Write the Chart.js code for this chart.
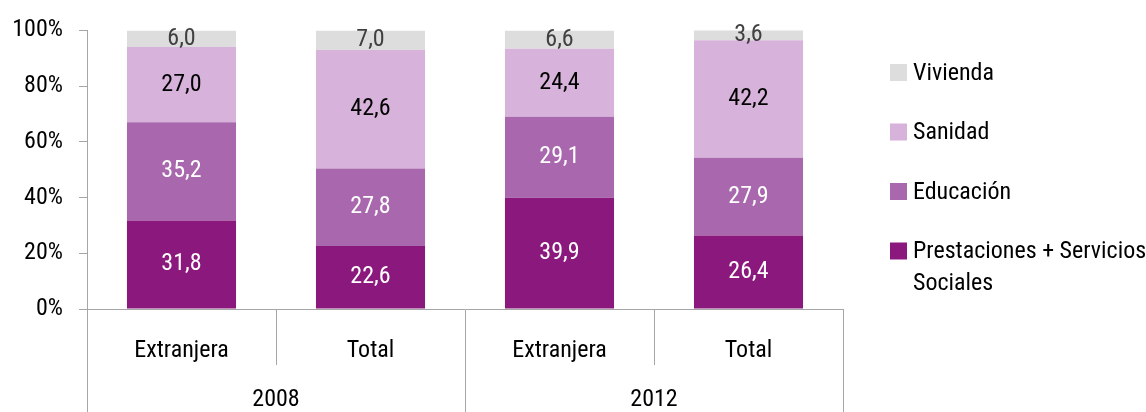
<!DOCTYPE html>
<html><head><meta charset="utf-8">
<script src="https://cdn.jsdelivr.net/npm/chart.js@4.4.0/dist/chart.umd.min.js"></script>
<style>html,body{margin:0;padding:0;background:#fff}#wrap{width:1146px;height:412px;position:relative}</style>
</head><body><div id="wrap"><canvas id="c" width="1146" height="412"></canvas></div>
<script>
const categories = ['Extranjera', 'Total', 'Extranjera', 'Total'];
const years = ['2008', '2012'];
const prestaciones = [31.8, 22.6, 39.9, 26.4];
const educacion = [35.2, 27.8, 29.1, 27.9];
const sanidad = [27.0, 42.6, 24.4, 42.2];
const vivienda = [6.0, 7.0, 6.6, 3.6];
const yTicks = [0, 20, 40, 60, 80, 100];
const seriesNames = ['Prestaciones + Servicios Sociales', 'Educación', 'Sanidad', 'Vivienda'];
const legendLines = [['Prestaciones + Servicios', 'Sociales'], ['Educación'], ['Sanidad'], ['Vivienda']];

const FONT = "'Roboto Condensed', 'DejaVu Sans Condensed', sans-serif";
const FS = 24;
const colors = ['#8B187C', '#A968AE', '#D7B2DA', '#DDDDDD'];
const labelColors = ['#FFFFFF', '#FFFFFF', '#000000', '#404040'];
const seriesData = [prestaciones, educacion, sanidad, vivienda];
const AXIS = '#A6A6A6';

const fmt = v => v.toFixed(1).replace('.', ',');

const valueLabels = {
  id: 'valueLabels',
  afterDatasetsDraw(chart) {
    const ctx = chart.ctx;
    ctx.save();
    ctx.font = FS + 'px ' + FONT;
    ctx.textAlign = 'center';
    ctx.textBaseline = 'middle';
    chart.data.datasets.forEach((ds, i) => {
      const meta = chart.getDatasetMeta(i);
      meta.data.forEach((el, j) => {
        const p = el.getProps(['x', 'y', 'base'], true);
        ctx.fillStyle = labelColors[i];
        ctx.fillText(fmt(ds.data[j]), p.x, (p.y + p.base) / 2);
      });
    });
    ctx.restore();
  }
};

const sideLegend = {
  id: 'sideLegend',
  afterDraw(chart) {
    const ctx = chart.ctx;
    ctx.save();
    ctx.font = FS + 'px ' + FONT;
    ctx.textAlign = 'left';
    ctx.textBaseline = 'middle';
    const order = [3, 2, 1, 0];
    const centers = [72.5, 132, 191.5, 251];
    order.forEach((di, k) => {
      const cy = centers[k];
      ctx.fillStyle = chart.data.datasets[di].backgroundColor;
      ctx.fillRect(890, cy - 8.5, 17, 17);
      ctx.fillStyle = '#000';
      legendLines[di].forEach((line, li) => {
        ctx.fillText(line, 913, cy + 1 + li * 32);
      });
    });
    ctx.restore();
  }
};

new Chart(document.getElementById('c'), {
  type: 'bar',
  data: {
    labels: categories,
    datasets: seriesData.map((d, i) => ({
      label: seriesNames[i],
      data: d,
      backgroundColor: colors[i],
      borderWidth: 0,
      categoryPercentage: 1,
      barPercentage: 0.577,
      xAxisID: 'x',
      yAxisID: 'y'
    }))
  },
  options: {
    responsive: false,
    animation: false,
    devicePixelRatio: 1,
    layout: { padding: { top: 28, right: 303, bottom: 0, left: 0 } },
    plugins: { legend: { display: false }, tooltip: { enabled: false } },
    scales: {
      x: {
        type: 'category',
        position: 'bottom',
        weight: 0,
        stacked: true,
        offset: true,
        afterFit: s => { s.height = 56; },
        grid: { offset: true, drawOnChartArea: false, tickLength: 56, color: AXIS, lineWidth: 1 },
        border: { display: true, color: AXIS, width: 1 },
        ticks: { font: { family: FONT, size: FS }, color: '#000', mirror: true, crossAlign: 'center', padding: -42, autoSkip: false, maxRotation: 0 }
      },
      x2: {
        type: 'category',
        position: 'bottom',
        weight: 1,
        labels: years,
        offset: true,
        afterFit: s => { s.height = 47; },
        grid: { offset: true, drawOnChartArea: false, tickLength: 47, color: AXIS, lineWidth: 1 },
        border: { display: false },
        ticks: { font: { family: FONT, size: FS }, color: '#000', mirror: true, crossAlign: 'center', padding: -35, autoSkip: false, maxRotation: 0 }
      },
      y: {
        stacked: true,
        min: 0,
        max: 100,
        afterFit: s => { s.width = 87; },
        afterBuildTicks: s => { s.ticks = yTicks.map(v => ({ value: v })); },
        grid: { drawOnChartArea: false, tickLength: 8, color: AXIS, lineWidth: 1 },
        border: { display: true, color: AXIS, width: 1 },
        ticks: { font: { family: FONT, size: FS }, color: '#000', padding: 16, callback: v => v + '%' }
      }
    }
  },
  plugins: [valueLabels, sideLegend]
});
</script>
</body></html>
